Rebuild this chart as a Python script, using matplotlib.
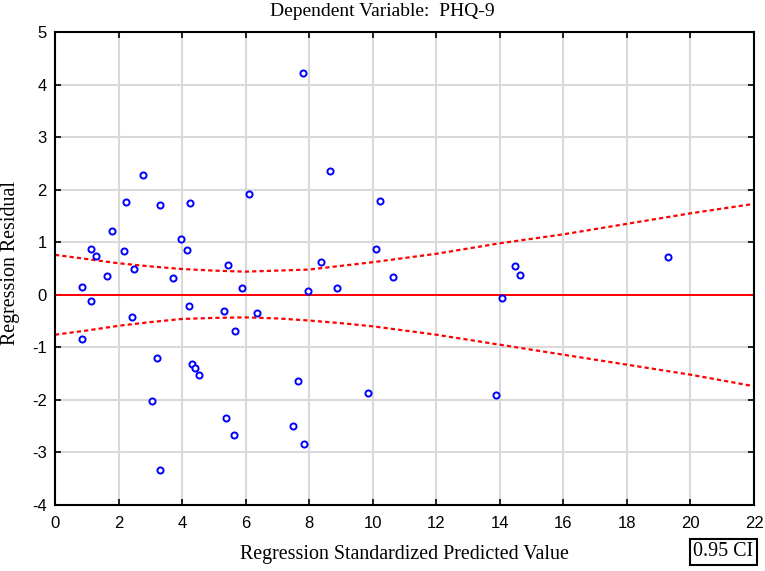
import matplotlib
matplotlib.use("Agg")
import matplotlib.pyplot as plt

plt.rcParams["axes.unicode_minus"] = False

# Scatter data (predicted value, residual)
pred = [0.85, 1.12, 1.29, 1.64, 1.79, 2.18, 2.25, 2.50, 2.78, 3.32, 3.71, 3.95,
        4.14, 4.26, 5.44, 5.87, 6.10, 7.79, 7.96, 8.38, 8.66, 8.86, 10.11, 10.22,
        10.65, 14.47, 14.62, 19.30,
        1.12, 0.85, 2.42, 3.21, 3.05, 3.32, 4.23, 4.31, 4.42, 4.54, 5.33, 5.68,
        5.37, 5.64, 6.37, 7.64, 7.48, 7.83, 9.86, 13.88, 14.08]
resid = [0.15, 0.88, 0.74, 0.36, 1.22, 0.84, 1.77, 0.50, 2.27, 1.70, 0.32, 1.07,
         0.86, 1.75, 0.57, 0.13, 1.91, 4.22, 0.08, 0.62, 2.36, 0.12, 0.88, 1.79,
         0.34, 0.55, 0.38, 0.72,
         -0.11, -0.85, -0.43, -1.21, -2.02, -3.33, -0.21, -1.31, -1.40, -1.52, -0.30, -0.69,
         -2.35, -2.66, -0.35, -1.64, -2.50, -2.83, -1.87, -1.90, -0.07]

# 0.95 confidence band
band_x = [0, 1, 2, 3, 4, 5, 6, 7, 8, 9, 10, 11, 12, 14, 16, 18, 20, 22]
band_upper = [0.76, 0.68, 0.60, 0.54, 0.49, 0.46, 0.44, 0.46, 0.48, 0.55, 0.62, 0.70,
              0.78, 0.98, 1.15, 1.35, 1.55, 1.73]
band_lower = [-0.76, -0.68, -0.59, -0.52, -0.46, -0.44, -0.43, -0.45, -0.49, -0.54, -0.60, -0.68,
              -0.76, -0.95, -1.14, -1.33, -1.52, -1.74]

x_ticks = [0, 2, 4, 6, 8, 10, 12, 14, 16, 18, 20, 22]
y_ticks = [-4, -3, -2, -1, 0, 1, 2, 3, 4, 5]

serif = ["Liberation Serif", "DejaVu Serif"]
sans = ["Liberation Sans", "DejaVu Sans"]

fig = plt.figure(figsize=(7.65, 5.71), dpi=100)
ax = fig.add_axes([55/765, 1-505/571, (754-55)/765, (505-32)/571])

ax.set_xlim(0, 22)
ax.set_ylim(-4, 5)
ax.set_xticks(x_ticks)
ax.set_yticks(y_ticks)
ax.grid(True, color="#d9d9d9", linewidth=1.5, zorder=0)
ax.set_axisbelow(True)

ax.axhline(0, color="#ff0000", linewidth=1.4, zorder=2)
ax.plot(band_x, band_upper, color="#ff0000", linewidth=1.6, linestyle=(0, (1.9, 1.4)), zorder=2)
ax.plot(band_x, band_lower, color="#ff0000", linewidth=1.6, linestyle=(0, (1.9, 1.4)), zorder=2)

ax.plot(pred, resid, linestyle="none", marker="o", markersize=4.4,
        markerfacecolor="white", markeredgecolor="#0000ff", markeredgewidth=1.4, zorder=3)

for s in ax.spines.values():
    s.set_color("black")
    s.set_linewidth(1.5)

ax.tick_params(direction="in", length=4, width=1.2, top=True, right=True,
               labelsize=12, colors="black")
ax.tick_params(axis="x", pad=8)
ax.tick_params(axis="y", pad=6)
for lab in ax.get_xticklabels() + ax.get_yticklabels():
    lab.set_family(sans)

fig.text(382/765, 1-12/571, "Dependent Variable:  PHQ-9", ha="center", va="center",
         family=serif, fontsize=14)
fig.text(404/765, 1-555/571, "Regression Standardized Predicted Value", ha="center", va="center",
         family=serif, fontsize=14.4)
fig.text(10.5/765, 1-263/571, "Regression Residual", ha="center", va="center",
         rotation=90, family=serif, fontsize=14.4)

fig.text(723.5/765, 1-552/571, "0.95 CI", ha="center", va="center", family=serif, fontsize=14.4,
         bbox=dict(boxstyle="square,pad=0.18", facecolor="white", edgecolor="black", linewidth=1.5))

fig.savefig("out.png", dpi=100)
